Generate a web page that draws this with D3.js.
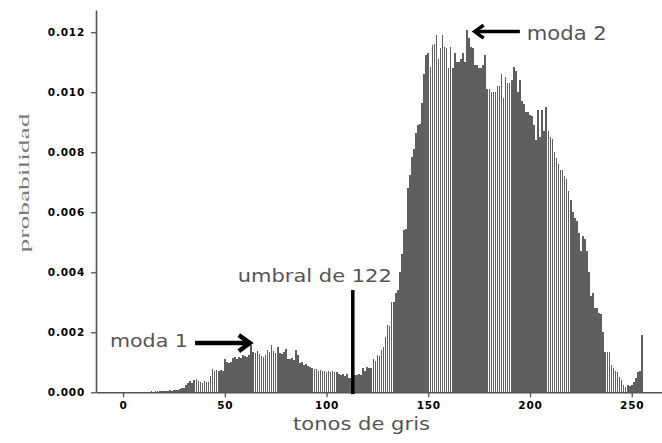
<!DOCTYPE html>
<html>
<head>
<meta charset="utf-8">
<script src="https://cdn.jsdelivr.net/npm/d3@7"></script>
<style>
  html, body { margin: 0; padding: 0; background: #ffffff; }
  svg { display: block; }
</style>
</head>
<body>
<svg id="chart" width="662" height="443"></svg>
<script>
// Gray-level histogram: probability of each tone 0..255
const tones = d3.range(256);
const probabilidad = [
  0, 0, 0, 0, 0, 0, 0, 0, 0, 0, 0.00002, 0.00001, 0.00002, 0.00002, 0.00003, 0.00002,
  0.00003, 0.00004, 0.00003, 0.00005, 0.00004, 0.00005, 0.00004, 0.00006, 0.00005, 0.00007, 0.00008, 0.00009, 0.00012, 0.00014, 0.00013, 0.00024,
  0.00030, 0.00036, 0.00032, 0.00042, 0.00044, 0.00036, 0.00034, 0.00030, 0.00036, 0.00033, 0.00035, 0.00055, 0.00076, 0.00072, 0.00074, 0.00070,
  0.00075, 0.00072, 0.00110, 0.00100, 0.00098, 0.00102, 0.00115, 0.00118, 0.00112, 0.00118, 0.00115, 0.00124, 0.00120, 0.00118, 0.00125, 0.00158,
  0.00135, 0.00130, 0.00136, 0.00128, 0.00122, 0.00118, 0.00125, 0.00140, 0.00135, 0.00158, 0.00138, 0.00130, 0.00150, 0.00132, 0.00128, 0.00135,
  0.00145, 0.00112, 0.00110, 0.00115, 0.00108, 0.00140, 0.00124, 0.00096, 0.00100, 0.00092, 0.00095, 0.00088, 0.00085, 0.00080, 0.00076, 0.00078,
  0.00072, 0.00075, 0.00070, 0.00072, 0.00068, 0.00070, 0.00066, 0.00070, 0.00068, 0.00066, 0.00060, 0.00058, 0.00062, 0.00055, 0.00062, 0.00048,
  0.00046, 0.00050, 0.00058, 0.00056, 0.00060, 0.00058, 0.00080, 0.00070, 0.00085, 0.00082, 0.00080, 0.00110, 0.00105, 0.00124, 0.00120, 0.00140,
  0.00150, 0.00185, 0.00224, 0.00220, 0.00300, 0.00300, 0.00330, 0.00340, 0.00400, 0.00460, 0.00540, 0.00545, 0.00680, 0.00724, 0.00785, 0.00810,
  0.00864, 0.00890, 0.00895, 0.00964, 0.01060, 0.01124, 0.01130, 0.01085, 0.01158, 0.01160, 0.01190, 0.01110, 0.01148, 0.01190, 0.01150, 0.01148,
  0.01080, 0.01150, 0.01080, 0.01130, 0.01100, 0.01100, 0.01110, 0.01130, 0.01100, 0.01208, 0.01180, 0.01150, 0.01148, 0.01090, 0.01090, 0.01080,
  0.01080, 0.01090, 0.01124, 0.01010, 0.01010, 0.01000, 0.01000, 0.01000, 0.01020, 0.01020, 0.01060, 0.00980, 0.01050, 0.01030, 0.01030, 0.01040,
  0.01085, 0.01070, 0.01000, 0.01040, 0.00970, 0.00960, 0.00935, 0.00935, 0.00924, 0.00920, 0.00890, 0.00840, 0.00940, 0.00850, 0.00940, 0.00870,
  0.00950, 0.00870, 0.00850, 0.00845, 0.00800, 0.00780, 0.00760, 0.00740, 0.00740, 0.00720, 0.00710, 0.00670, 0.00640, 0.00600, 0.00580, 0.00570,
  0.00530, 0.00470, 0.00520, 0.00510, 0.00470, 0.00400, 0.00320, 0.00330, 0.00280, 0.00280, 0.00263, 0.00260, 0.00200, 0.00135, 0.00135, 0.00135,
  0.00090, 0.00081, 0.00070, 0.00068, 0.00052, 0.00040, 0.00025, 0.00018, 0.00024, 0.00022, 0.00024, 0.00035, 0.00047, 0.00068, 0.00070, 0.00190
];
const xTicks = [0, 50, 100, 150, 200, 250];
const yTicks = [0, 0.002, 0.004, 0.006, 0.008, 0.010, 0.012];

// Annotations (data coordinates)
const moda1 = { label: "moda 1", tail: 35.4, tip: 62.3, y: 0.00164, textX: 31.9, textY: 0.00152 };
const moda2 = { label: "moda 2", tail: 195, tip: 172.8, y: 0.01202, textX: 198.4, textY: 0.01174 };
const umbral = { label: "umbral de 122", lineX: 112.9, lineTop: 0.00341, lineBottom: -0.00006, textX: 56.4, textY: 0.00369 };
const xTitle = "tonos de gris";
const yTitle = "probabilidad";

const svg = d3.select("#chart");
const W = 662, H = 443;
const plot = { left: 96, right: 669, top: 10, bottom: 392.3 };

const x = d3.scaleLinear().domain([-13.3, 268.3]).range([plot.left, plot.right]);
const y = d3.scaleLinear().domain([0, 0.01274]).range([plot.bottom, plot.top]);
const binW = x(1) - x(0);

svg.append("rect").attr("width", W).attr("height", H).attr("fill", "#ffffff");

// bars
svg.append("g")
  .attr("shape-rendering", "crispEdges")
  .selectAll("rect")
  .data(tones)
  .join("rect")
  .attr("x", i => x(i) - 0.4 * binW)
  .attr("width", 0.8 * binW)
  .attr("y", i => y(probabilidad[i]))
  .attr("height", i => y(0) - y(probabilidad[i]))
  .attr("fill", "#5f5f5f");

// axes
const sansFont = "'DejaVu Sans', Verdana, sans-serif";
const xAxis = svg.append("g")
  .attr("transform", `translate(0,${plot.bottom})`)
  .call(d3.axisBottom(x).tickValues(xTicks).tickFormat(d3.format("d")).tickSize(5).tickSizeOuter(0).tickPadding(4));
const yAxis = svg.append("g")
  .attr("transform", `translate(${plot.left},0)`)
  .call(d3.axisLeft(y).tickValues(yTicks).tickFormat(d3.format(".3f")).tickSize(5).tickSizeOuter(0).tickPadding(6));

[xAxis, yAxis].forEach(g => {
  g.select(".domain").attr("stroke", "#555").attr("stroke-width", 1.6);
  g.selectAll(".tick line").attr("stroke", "#555").attr("stroke-width", 1.3);
  g.selectAll(".tick text")
    .attr("fill", "#000")
    .style("font-family", sansFont)
    .style("font-weight", "bold")
    .style("font-size", "10.5px")
    .style("letter-spacing", "0.8px");
});

// text stretched to a given run length
function label(sel, len) {
  return sel.attr("textLength", len).attr("lengthAdjust", "spacingAndGlyphs");
}

// axis titles
label(svg.append("text")
  .attr("x", 361.5).attr("y", 429.5)
  .attr("text-anchor", "middle")
  .attr("fill", "#555")
  .style("font-family", sansFont)
  .style("font-size", "18px")
  .text(xTitle), 137);

label(svg.append("text")
  .attr("transform", "translate(28.5,183) rotate(-90)")
  .attr("text-anchor", "middle")
  .attr("fill", "#7a7a7a")
  .style("font-family", "'Liberation Serif', 'DejaVu Serif', serif")
  .style("font-size", "15px")
  .text(yTitle), 139);

// annotation arrows
function arrow(a, headLen, headHalf, width) {
  const dir = Math.sign(x(a.tip) - x(a.tail));
  const tx = x(a.tip), ty = y(a.y);
  const g = svg.append("g").attr("fill", "none").attr("stroke", "#000").attr("stroke-width", width);
  g.append("path").attr("d", d3.line()([[x(a.tail), ty], [tx - dir * 2, ty]]));
  g.append("path")
    .attr("stroke-linejoin", "miter")
    .attr("d", d3.line()([[tx - dir * headLen, ty - headHalf], [tx, ty], [tx - dir * headLen, ty + headHalf]]));
}
arrow(moda1, 11, 8, 4.5);
arrow(moda2, 9, 6.5, 3.5);

label(svg.append("text")
  .attr("x", x(moda1.textX)).attr("y", y(moda1.textY))
  .attr("text-anchor", "end")
  .attr("fill", "#555")
  .style("font-family", sansFont)
  .style("font-size", "18.4px")
  .text(moda1.label), 78);

label(svg.append("text")
  .attr("x", x(moda2.textX)).attr("y", y(moda2.textY))
  .attr("fill", "#555")
  .style("font-family", sansFont)
  .style("font-size", "19px")
  .text(moda2.label), 80);

// threshold marker
svg.append("line")
  .attr("x1", x(umbral.lineX)).attr("x2", x(umbral.lineX))
  .attr("y1", y(umbral.lineTop)).attr("y2", y(umbral.lineBottom))
  .attr("stroke", "#000").attr("stroke-width", 3.5);

label(svg.append("text")
  .attr("x", x(umbral.textX)).attr("y", y(umbral.textY))
  .attr("fill", "#555")
  .style("font-family", sansFont)
  .style("font-size", "17.6px")
  .text(umbral.label), 154);
</script>
</body>
</html>
